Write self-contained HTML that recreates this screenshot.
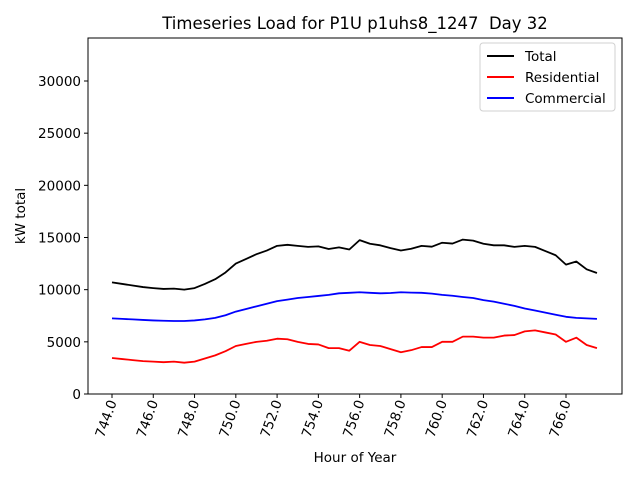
<!DOCTYPE html>
<html><head><meta charset="utf-8"><style>
body{margin:0;background:#fff}
svg{display:block;font-family:"DejaVu Sans","Liberation Sans",sans-serif}
</style></head><body>
<svg id="chart" width="640" height="480" viewBox="0 0 640 480" xmlns="http://www.w3.org/2000/svg">
<rect width="640" height="480" fill="#fff"/>
<text x="355" y="29" font-size="16.5" text-anchor="middle" style="white-space:pre">Timeseries Load for P1U p1uhs8_1247  Day 32</text>
<g id="plot"></g>
<rect x="88" y="38" width="534" height="356" fill="none" stroke="#000" stroke-width="1"/>
<text x="355" y="462" font-size="13.5" text-anchor="middle">Hour of Year</text>
<text transform="translate(25,216) rotate(-90)" font-size="13.5" text-anchor="middle">kW total</text>
<g>
<rect x="480" y="43" width="135" height="68" rx="3" fill="#fff" stroke="#ccc" opacity="0.9"/>
<line x1="487" y1="56" x2="514" y2="56" stroke="#000" stroke-width="2"/>
<text x="525" y="61" font-size="13.5">Total</text>
<line x1="487" y1="77" x2="514" y2="77" stroke="#f00" stroke-width="2"/>
<text x="525" y="82" font-size="13.5">Residential</text>
<line x1="487" y1="98" x2="514" y2="98" stroke="#00f" stroke-width="2"/>
<text x="525" y="103" font-size="13.5">Commercial</text>
</g>
</svg>
<script>
const hours=[744,744.5,745,745.5,746,746.5,747,747.5,748,748.5,749,749.5,750,750.5,751,751.5,752,752.5,753,753.5,754,754.5,755,755.5,756,756.5,757,757.5,758,758.5,759,759.5,760,760.5,761,761.5,762,762.5,763,763.5,764,764.5,765,765.5,766,766.5,767,767.5];
const residential=[3450,3350,3250,3150,3100,3050,3100,3000,3100,3400,3700,4100,4600,4800,5000,5100,5300,5250,5000,4800,4750,4400,4400,4150,5000,4700,4600,4300,4000,4200,4500,4500,5000,5000,5500,5500,5400,5400,5600,5650,6000,6100,5900,5700,5000,5400,4700,4400];
const commercial=[7250,7200,7150,7100,7050,7020,7000,7000,7050,7150,7300,7550,7900,8150,8400,8650,8900,9050,9200,9300,9400,9500,9650,9700,9750,9700,9650,9680,9750,9720,9700,9620,9500,9420,9300,9200,9000,8850,8650,8450,8200,8000,7800,7600,7400,7300,7250,7200];
const total=[10700,10550,10400,10250,10150,10070,10100,10000,10150,10550,11000,11650,12500,12950,13400,13750,14200,14300,14200,14100,14150,13900,14050,13850,14750,14400,14250,13980,13750,13920,14200,14120,14500,14420,14800,14700,14400,14250,14250,14100,14200,14100,13700,13300,12400,12700,11950,11600];
const xTicks=[744,746,748,750,752,754,756,758,760,762,764,766];
const yTicks=[0,5000,10000,15000,20000,25000,30000];
const NS="http://www.w3.org/2000/svg";
const xs=h=>112+(h-744)*(454/22);
const ys=v=>394-v*(313/30000);
const g=document.getElementById('plot');
function mk(t,a){const e=document.createElementNS(NS,t);for(const k in a)e.setAttribute(k,a[k]);g.appendChild(e);return e;}
yTicks.forEach(v=>{
  const l=mk('line',{x1:84,x2:88,y1:ys(v),y2:ys(v),stroke:'#000'});
  
  
  const t=mk('text',{x:81,y:ys(v)+5,'font-size':13.5,'text-anchor':'end'});
  t.textContent=v;
  
  
});
xTicks.forEach(h=>{
  const l=mk('line',{x1:xs(h),x2:xs(h),y1:394,y2:398,stroke:'#000'});
  
  
  const t=mk('text',{transform:`translate(${xs(h)+5},402) rotate(-70)`,'font-size':13.5,'text-anchor':'end'});
  t.textContent=h.toFixed(1);
  
  
});
function line(arr,color,name){
  const p=mk('polyline',{points:arr.map((v,i)=>xs(hours[i])+','+ys(v)).join(' '),fill:'none',stroke:color,'stroke-width':1.8,'stroke-linejoin':'round'});
  
  
}
line(total,'#000','total-line');
line(residential,'#f00','residential-line');
line(commercial,'#00f','commercial-line');
</script>
</body></html>
